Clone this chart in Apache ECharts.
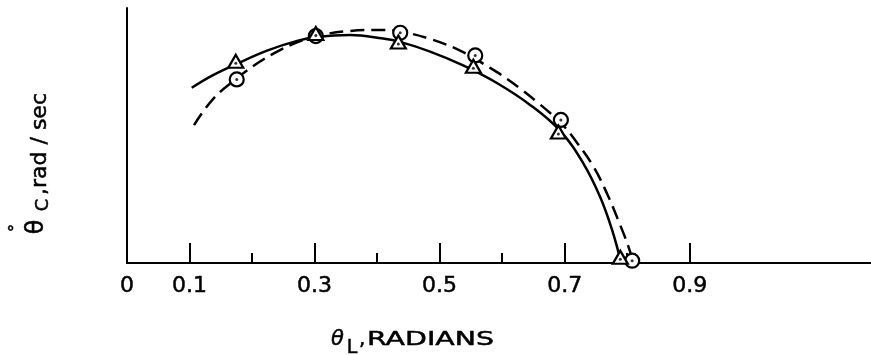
<!DOCTYPE html>
<html>
<head>
<meta charset="utf-8">
<script src="https://cdn.jsdelivr.net/npm/echarts@6/dist/echarts.min.js"></script>
<style>
  html, body { margin: 0; padding: 0; background: #fff; }
  #chart { width: 871px; height: 355px; }
</style>
</head>
<body>
<div id="chart"></div>
<script>
// Angular rate of the crank (theta-dot C) against link angle theta L, in radians.

// x-axis ticks and labels
const longTickValues = [0.1, 0.3, 0.5, 0.7, 0.9];
const shortTickValues = [0.2, 0.4, 0.6, 0.8];
const xLabelValues = [0, 0.1, 0.3, 0.5, 0.7, 0.9];
const xTickLabels = ['0', '0.1', '0.3', '0.5', '0.7', '0.9'];

// Measured points: triangles (solid fit) and circles (dashed fit)
const triangleX = [0.174, 0.302, 0.434, 0.554, 0.690, 0.789];
const triangleY = [0.783, 0.892, 0.859, 0.764, 0.506, 0.015];
const circleX = [0.1755, 0.302, 0.437, 0.557, 0.694, 0.808];
const circleY = [0.720, 0.890, 0.903, 0.814, 0.561, 0.009];

// Faired curves
const solidX = [0.1035, 0.1376, 0.1728, 0.224, 0.272, 0.3024, 0.3568, 0.4096, 0.4368, 0.4848, 0.5376, 0.5916, 0.6448, 0.6928, 0.7296, 0.7568, 0.776, 0.7904];
const solidY = [0.6875, 0.737, 0.778, 0.833, 0.871, 0.886, 0.894, 0.880, 0.867, 0.829, 0.775, 0.706, 0.620, 0.518, 0.392, 0.259, 0.129, 0.0];
const dashX = [0.1072, 0.1376, 0.176, 0.2128, 0.2448, 0.272, 0.3024, 0.3568, 0.4048, 0.4368, 0.4896, 0.5376, 0.5808, 0.608, 0.632, 0.656, 0.6768, 0.6944, 0.72, 0.7456, 0.768, 0.7888, 0.8016, 0.8096];
const dashY = [0.541, 0.643, 0.725, 0.790, 0.835, 0.865, 0.890, 0.910, 0.914, 0.908, 0.875, 0.827, 0.765, 0.722, 0.678, 0.631, 0.588, 0.549, 0.471, 0.380, 0.271, 0.149, 0.067, 0.004];

const zip = (xs, ys) => xs.map((x, i) => [x, ys[i]]);

const FAMILY = '"DejaVu Sans", sans-serif';
const font = (size, style) => (style ? style + ' ' : '') + size + 'px ' + FAMILY;
const INK = '#000';
// a thin outline in the ink colour gives the lettering its heavier drafting weight
const OUTLINE = 0.5;
const textStyle = (text, size, align, fontStyle) => ({
  text: text,
  font: font(size, fontStyle),
  fill: INK,
  align: align,
  verticalAlign: 'middle',
  stroke: INK,
  lineWidth: OUTLINE
});

const chart = echarts.init(document.getElementById('chart'), null, { renderer: 'canvas' });

const baseX = {
  type: 'value',
  gridIndex: 0,
  min: 0,
  max: 1.19,
  position: 'bottom',
  splitLine: { show: false }
};

chart.setOption({
  backgroundColor: '#fff',
  animation: false,
  grid: { left: 127, right: 0, top: 8, bottom: 92, containLabel: false },
  xAxis: [
    Object.assign({}, baseX, {
      axisLine: { show: true, onZero: false, lineStyle: { color: INK, width: 2 } },
      axisTick: { show: true, inside: true, length: 20, customValues: longTickValues, lineStyle: { color: INK, width: 2 } },
      axisLabel: {
        show: true,
        customValues: xLabelValues,
        margin: 12,
        color: INK,
        fontFamily: FAMILY,
        fontSize: 22,
        textBorderColor: INK,
        textBorderWidth: OUTLINE,
        formatter: (v) => {
          const i = xLabelValues.findIndex((t) => Math.abs(t - v) < 1e-9);
          return i >= 0 ? xTickLabels[i] : '';
        }
      }
    }),
    Object.assign({}, baseX, {
      axisLine: { show: false },
      axisTick: { show: true, inside: true, length: 10, customValues: shortTickValues, lineStyle: { color: INK, width: 2 } },
      axisLabel: { show: false }
    })
  ],
  yAxis: {
    type: 'value',
    min: 0,
    max: 1,
    axisLine: { show: true, onZero: false, lineStyle: { color: INK, width: 2 } },
    axisTick: { show: false },
    axisLabel: { show: false },
    splitLine: { show: false }
  },
  series: [
    {
      type: 'line',
      data: zip(solidX, solidY),
      smooth: 0.4,
      symbol: 'none',
      lineStyle: { color: INK, width: 2.5 },
      z: 2
    },
    {
      type: 'line',
      data: zip(dashX, dashY),
      smooth: 0.4,
      symbol: 'none',
      lineStyle: { color: INK, width: 2.5, type: [14, 7] },
      z: 2
    },
    {
      type: 'scatter',
      data: zip(circleX, circleY),
      symbol: 'circle',
      symbolSize: 14,
      itemStyle: { color: '#fff', borderColor: INK, borderWidth: 2.2, opacity: 1 },
      z: 3
    },
    {
      type: 'scatter',
      data: zip(circleX, circleY),
      symbol: 'circle',
      symbolSize: 3,
      itemStyle: { color: INK },
      z: 4
    },
    {
      type: 'scatter',
      data: zip(triangleX, triangleY),
      symbol: 'triangle',
      symbolSize: [15, 13],
      symbolOffset: [0, -2],
      itemStyle: { color: '#fff', borderColor: INK, borderWidth: 2.2, opacity: 1 },
      z: 5
    },
    {
      type: 'scatter',
      data: zip(triangleX, triangleY),
      symbol: 'circle',
      symbolSize: 3,
      itemStyle: { color: INK },
      z: 6
    }
  ],
  graphic: [
    // x-axis title: theta_L, RADIANS
    { type: 'text', x: 337.5, y: 340, style: textStyle('θ', 21, 'center', 'italic') },
    { type: 'text', x: 352, y: 348, style: textStyle('L', 19, 'center') },
    { type: 'text', x: 359, y: 340, style: textStyle(',', 20, 'left') },
    { type: 'text', x: 367, y: 340, scaleX: 1.42, style: textStyle('RADIANS', 20, 'left') },
    // y-axis title: theta-dot_C, rad / sec (reads bottom to top)
    {
      type: 'group',
      x: 40,
      y: 240,
      rotation: Math.PI / 2,
      children: [
        { type: 'text', x: 13, y: -3, style: textStyle('θ', 24, 'center') },
        { type: 'text', x: 12, y: -23, style: textStyle('°', 17, 'center') },
        { type: 'text', x: 35, y: 3, style: textStyle('C', 18, 'center') },
        { type: 'text', x: 45, y: 0, style: textStyle(',', 22, 'left') },
        { type: 'text', x: 52, y: 0, style: textStyle('rad / sec', 22, 'left') }
      ]
    }
  ]
});
</script>
</body>
</html>
